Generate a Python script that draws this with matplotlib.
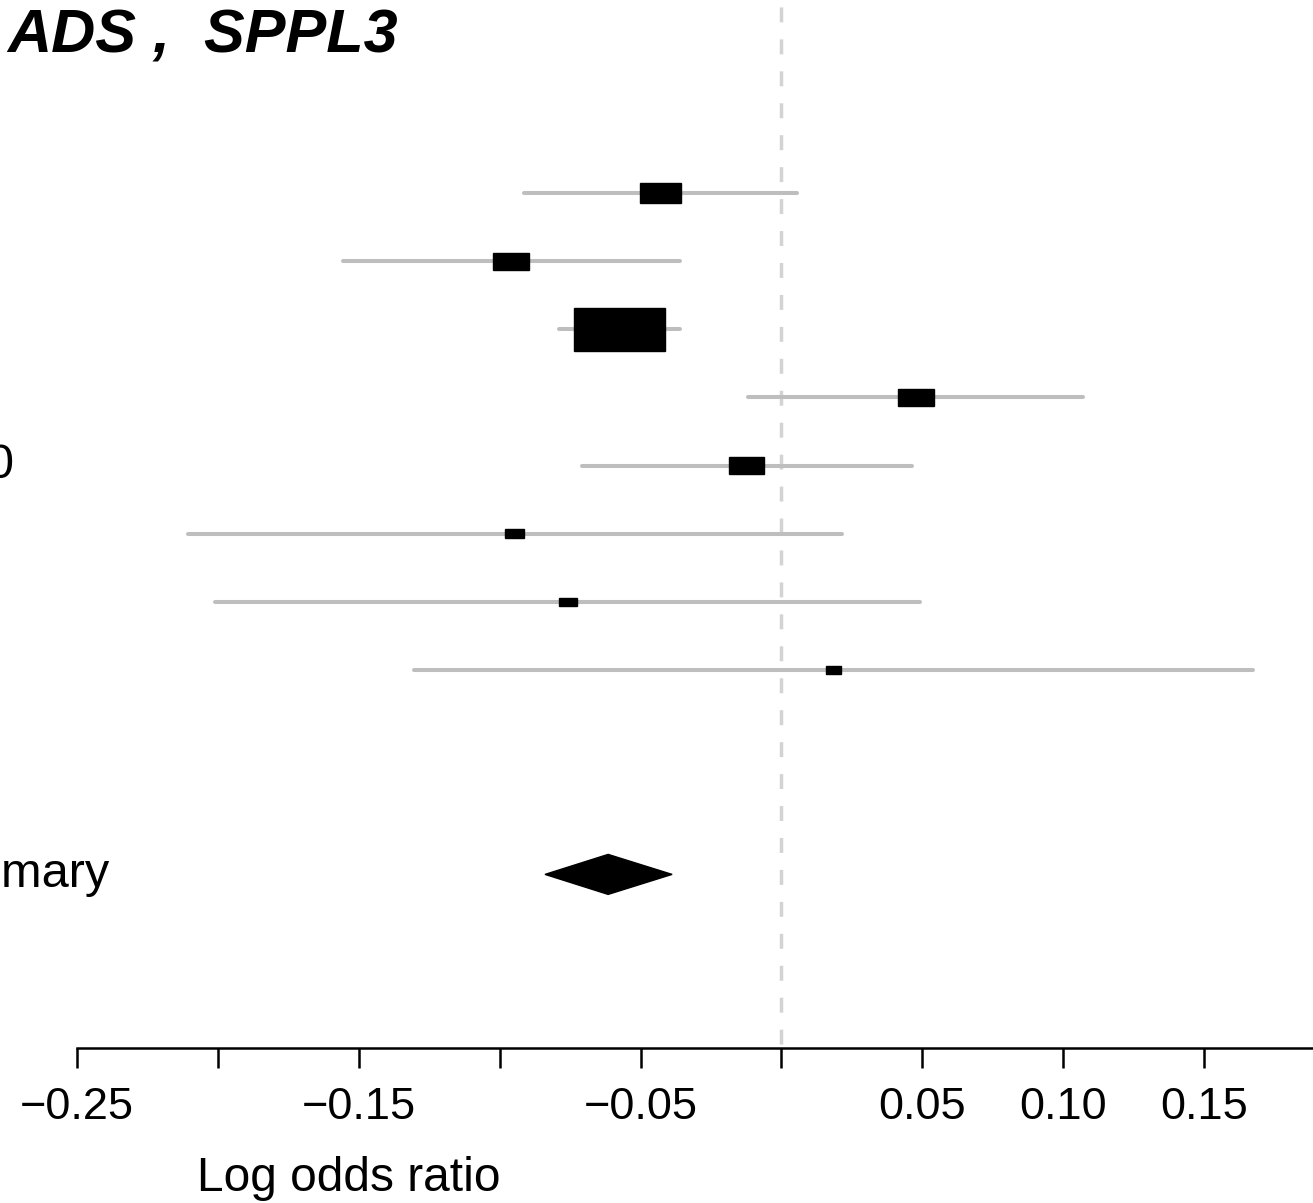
import matplotlib
matplotlib.use('Agg')
import matplotlib.pyplot as plt
from matplotlib.patches import Rectangle, Polygon
import numpy as np

# 各研究的 log odds ratio 與 95% CI
study_labels = ['', '', '', '', '0', '', '', '']
est = [-0.0429, -0.0960, -0.0575, 0.0478, -0.0124, -0.0946, -0.0759, 0.0185]
lower = [-0.0914, -0.1556, -0.0789, -0.0119, -0.0708, -0.2106, -0.2010, -0.1304]
upper = [0.0055, -0.0360, -0.0360, 0.1070, 0.0464, 0.0215, 0.0492, 0.1674]
weights = [0.115, 0.087, 0.559, 0.087, 0.087, 0.025, 0.022, 0.017]

summary_label = 'Summary'
summary_est = -0.0615
summary_lower = -0.0839
summary_upper = -0.0388

tick_values = [-0.25, -0.20, -0.15, -0.10, -0.05, 0.0, 0.05, 0.10, 0.15, 0.20]
tick_labels = ['\u22120.25', '', '\u22120.15', '', '\u22120.05', '', '0.05', '0.10', '0.15', '']
title = 'ADS ,  SPPL3'

plt.rcParams['font.family'] = ['Liberation Sans', 'DejaVu Sans']

W, H = 1313, 1203
fig = plt.figure(figsize=(W / 100, H / 100), dpi=100)
ax = fig.add_axes([0, 155 / H, 1, 1048 / H])

px_x = 2817.5   # 每單位的像素
px_y = 68.14    # 每列的像素
xlim = (-781.4 / px_x, (W - 781.4) / px_x)
ylim = (1 + 855 / px_y, 1 - 193 / px_y)

# 虛線參考線 x = 0
ax.plot([0, 0], [ylim[1], ylim[0]], color='#d3d3d3', lw=2.5,
        linestyle=(7.2, (4.3, 4.9)), dash_capstyle='butt', zorder=1)

rows = np.arange(1, len(est) + 1)
k = 57.5  # 方框高度（像素）= k * sqrt(weight)
for r, e, lo, hi, w in zip(rows, est, lower, upper, weights):
    ax.plot([lo, hi], [r, r], color='#bebebe', lw=2.9, solid_capstyle='round', zorder=2)
    h_px = k * np.sqrt(w)
    bw = 2.1 * h_px / px_x
    bh = h_px / px_y
    ax.add_patch(Rectangle((e - bw / 2, r - bh / 2), bw, bh, color='black', zorder=3))

for r, lab in zip(rows, study_labels):
    if lab:
        ax.text(-0.2727, r, lab, ha='right', va='center', fontsize=35, clip_on=False)

# 合併效應（菱形）
srow = 11
dh = 20 / px_y
ax.add_patch(Polygon([(summary_lower, srow), (summary_est, srow - dh),
                      (summary_upper, srow), (summary_est, srow + dh)],
                     closed=True, color='black', zorder=3))
ax.text(-0.2383, srow, summary_label, ha='right', va='center', fontsize=35, clip_on=False)

ax.text(-0.1361, 1 + (53 - 193) / px_y, title, ha='right', va='baseline',
        fontsize=44, fontweight='bold', fontstyle='italic', clip_on=False)

for s in ['top', 'left', 'right']:
    ax.spines[s].set_visible(False)
ax.spines['bottom'].set_bounds(-0.25, 0.20)
ax.spines['bottom'].set_linewidth(1.8)
ax.set_yticks([])
ax.set_xticks(tick_values)
ax.set_xticklabels(tick_labels, fontsize=32.5)
ax.tick_params(axis='x', direction='out', length=14.4, width=1.8, pad=13.5)
ax.set_xlim(*xlim)
ax.set_ylim(*ylim)

ax.set_xlabel('Log odds ratio', fontsize=34.5)
ax.xaxis.label.set_va('baseline')
ax.xaxis.set_label_coords(348.5 / W, (1048 - 1191) / 1048)

fig.savefig('out.png', dpi=100)
